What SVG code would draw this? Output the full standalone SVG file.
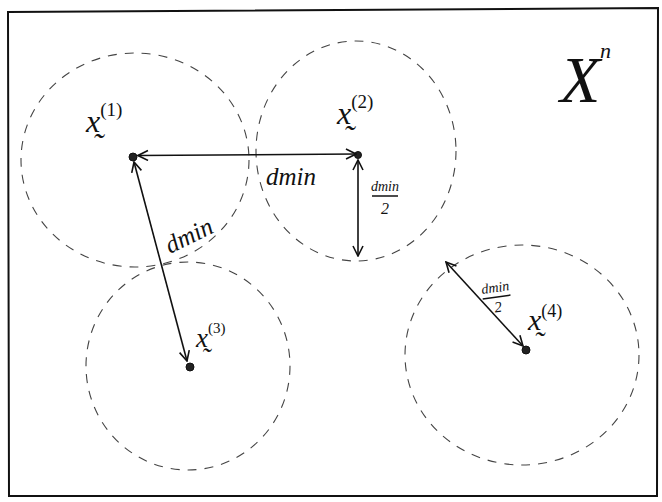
<svg xmlns="http://www.w3.org/2000/svg" width="662" height="502" viewBox="0 0 662 502">
  <style>
    .region { fill: none; stroke: #444; stroke-width: 1.1; stroke-dasharray: 9 8; }
    .dot { fill: #222; stroke: #111; stroke-width: 1; }
    .conn { stroke: #111; stroke-width: 1.6; fill: none; }
    .lbl { font-family: "Liberation Serif", "DejaVu Serif", serif; font-style: italic; fill: #111; }
    .frame { fill: #fff; stroke: #111; stroke-width: 2; }
    .bar { stroke: #111; stroke-width: 1.5; }
  </style>
  <defs>
    <marker id="v" viewBox="0 0 12 12" refX="11" refY="6" markerWidth="12" markerHeight="12" markerUnits="userSpaceOnUse" orient="auto-start-reverse">
      <path d="M1,1 L11,6 L1,11" fill="none" stroke="#111" stroke-width="1.6"/>
    </marker>
  </defs>

  <rect width="662" height="502" fill="#fff"/>
  <path class="frame" d="M8,12 L658,8 L657,496 L9,496 Z"/>

  <g id="space-label">
    <text class="lbl" x="560" y="102" font-size="66">X</text>
    <text class="lbl" x="600" y="58" font-size="22">n</text>
  </g>

  <g id="node-x1">
    <ellipse class="region" cx="135" cy="160" rx="114" ry="107"/>
    <circle class="dot" cx="133" cy="157" r="4"/>
    <text class="lbl" x="86" y="132" font-size="32">x&#x330;<tspan font-size="19" font-style="normal" dy="-16">(1)</tspan></text>
  </g>

  <g id="node-x2">
    <ellipse class="region" cx="356" cy="151" rx="100" ry="110"/>
    <circle class="dot" cx="358" cy="155" r="3.5"/>
    <text class="lbl" x="337" y="124" font-size="32">x&#x330;<tspan font-size="19" font-style="normal" dy="-16">(2)</tspan></text>
  </g>

  <g id="node-x3">
    <ellipse class="region" cx="188" cy="366" rx="102" ry="104"/>
    <circle class="dot" cx="190" cy="367" r="4"/>
    <text class="lbl" x="196" y="347" font-size="27">x&#x330;<tspan font-size="15" font-style="normal" dy="-14">(3)</tspan></text>
  </g>

  <g id="node-x4">
    <ellipse class="region" cx="522" cy="355" rx="117" ry="110"/>
    <circle class="dot" cx="526" cy="350" r="4"/>
    <text class="lbl" x="528" y="330" font-size="30">x&#x330;<tspan font-size="18" font-style="normal" dy="-13">(4)</tspan></text>
  </g>

  <g id="connectors">
    <line class="conn" x1="138" y1="155.5" x2="356" y2="154" marker-start="url(#v)" marker-end="url(#v)"/>
    <line class="conn" x1="134" y1="162" x2="187" y2="361" marker-start="url(#v)" marker-end="url(#v)"/>
    <line class="conn" x1="358" y1="160" x2="358" y2="256" marker-start="url(#v)" marker-end="url(#v)"/>
    <line class="conn" x1="446" y1="262" x2="523" y2="346" marker-start="url(#v)" marker-end="url(#v)"/>

    <text class="lbl" x="266" y="185" font-size="25">dmin</text>
    <text class="lbl" x="0" y="0" font-size="25" transform="translate(170,254) rotate(-26)">dmin</text>

    <g id="half-1">
      <text class="lbl" x="385" y="191" font-size="14" text-anchor="middle">dmin</text>
      <line class="bar" x1="372" y1="196" x2="398" y2="196"/>
      <text class="lbl" x="385" y="214" font-size="16" text-anchor="middle" font-style="normal">2</text>
    </g>
    <g id="half-2" transform="translate(497,300) rotate(-8)">
      <text class="lbl" x="0" y="-8" font-size="14" text-anchor="middle">dmin</text>
      <line class="bar" x1="-14" y1="-3" x2="14" y2="-3"/>
      <text class="lbl" x="0" y="12" font-size="15" text-anchor="middle" font-style="normal">2</text>
    </g>
  </g>
</svg>
